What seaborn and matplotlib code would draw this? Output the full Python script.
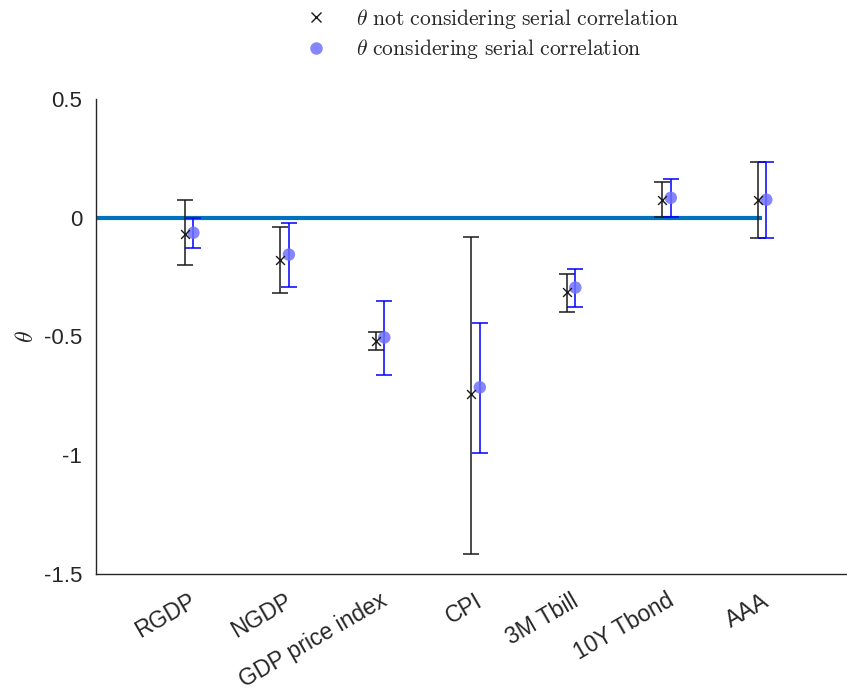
import numpy as np
import pandas as pd
import matplotlib
matplotlib.use("Agg")
import matplotlib.pyplot as plt
import matplotlib.transforms as mtransforms
from matplotlib.lines import Line2D
import seaborn as sns

# Estimates of theta per series, with confidence bounds
categories = ["RGDP", "NGDP", "GDP price index", "CPI", "3M Tbill", "10Y Tbond", "AAA"]

theta_plain = [-0.067, -0.176, -0.517, -0.744, -0.311, 0.076, 0.076]
lo_plain = [-0.200, -0.315, -0.555, -1.416, -0.395, 0.004, -0.084]
hi_plain = [0.076, -0.038, -0.479, -0.080, -0.235, 0.151, 0.235]

theta_serial = [-0.063, -0.155, -0.504, -0.714, -0.294, 0.084, 0.076]
lo_serial = [-0.126, -0.290, -0.660, -0.992, -0.374, 0.004, -0.084]
hi_serial = [0.000, -0.020, -0.349, -0.445, -0.214, 0.164, 0.235]

yticks = [-1.5, -1, -0.5, 0, 0.5]
ytick_labels = ["-1.5", "-1", "-0.5", "0", "0.5"]

sns.set_style("white")
plt.rcParams["font.family"] = ["Liberation Sans", "DejaVu Sans"]
plt.rcParams["mathtext.fontset"] = "cm"

pos = np.arange(1, len(categories) + 1)
df = pd.DataFrame({
    "pos": pos,
    "category": categories,
    "theta_plain": theta_plain,
    "lo_plain": lo_plain,
    "hi_plain": hi_plain,
    "theta_serial": theta_serial,
    "lo_serial": lo_serial,
    "hi_serial": hi_serial,
})
df["x_plain"] = df["pos"] - 0.04
df["x_serial"] = df["pos"] + 0.05

fig = plt.figure(figsize=(8.47, 6.92), dpi=100)
ax = fig.add_axes([96 / 847, 1 - 574 / 692, (857 - 96) / 847, (574 - 99) / 692])

axis_gray = "#262626"

# reference line at zero
ax.plot([0, 7], [0, 0], color="#0072BD", lw=3, zorder=1, solid_capstyle="butt")

# error bars (capsize is half the cap width)
ax.errorbar(df["x_plain"], df["theta_plain"],
            yerr=[df["theta_plain"] - df["lo_plain"], df["hi_plain"] - df["theta_plain"]],
            fmt="none", ecolor="#1a1a1a", elinewidth=1.1, capsize=5.5, capthick=1.1, zorder=2)
ax.errorbar(df["x_serial"], df["theta_serial"],
            yerr=[df["theta_serial"] - df["lo_serial"], df["hi_serial"] - df["theta_serial"]],
            fmt="none", ecolor="#0000FF", elinewidth=1.1, capsize=5.5, capthick=1.1, zorder=2)

# point estimates
sns.scatterplot(data=df, x="x_serial", y="theta_serial", ax=ax, marker="o", s=80,
                color="#7070FF", alpha=0.85, edgecolor="none", zorder=3, legend=False)
sns.scatterplot(data=df, x="x_plain", y="theta_plain", ax=ax, marker="x", s=40,
                color="#1a1a1a", linewidth=1.0, zorder=4, legend=False)

ax.set_xlim(0.03, 8)
ax.set_ylim(-1.5, 0.5)
ax.set_xticks(pos)
ax.set_xticklabels(categories, rotation=30, ha="right", va="top", rotation_mode="anchor",
                   fontsize=16.5, color=axis_gray)
shift = mtransforms.ScaledTranslation(6 / 100, 0, fig.dpi_scale_trans)
for lbl in ax.get_xticklabels():
    lbl.set_transform(lbl.get_transform() + shift)
ax.set_yticks(yticks)
ax.set_yticklabels(ytick_labels, fontsize=16, color=axis_gray)
ax.tick_params(axis="both", direction="in", length=5, width=1, color=axis_gray)
ax.tick_params(axis="y", pad=10)
ax.tick_params(axis="x", pad=11)
ax.set_xlabel("")
ax.set_ylabel(r"$\theta$", fontsize=17, color=axis_gray, labelpad=4)

for side in ["top", "right"]:
    ax.spines[side].set_visible(False)
for side in ["left", "bottom"]:
    ax.spines[side].set_color(axis_gray)
    ax.spines[side].set_linewidth(1)

handles = [
    Line2D([], [], linestyle="none", marker="x", color="#1a1a1a", markersize=7, markeredgewidth=1.0),
    Line2D([], [], linestyle="none", marker="o", color="#7070FF", alpha=0.85, markersize=9,
           markeredgewidth=0),
]
labels = [r"$\theta\ \mathrm{not\ considering\ serial\ correlation}$",
          r"$\theta\ \mathrm{considering\ serial\ correlation}$"]
fig.legend(handles, labels, loc="center", bbox_to_anchor=(492 / 847, 1 - 34 / 692),
           frameon=False, fontsize=15.5, handlelength=1.0, handletextpad=1.35,
           labelspacing=0.3, borderpad=0)

fig.savefig("out.png", dpi=100)
